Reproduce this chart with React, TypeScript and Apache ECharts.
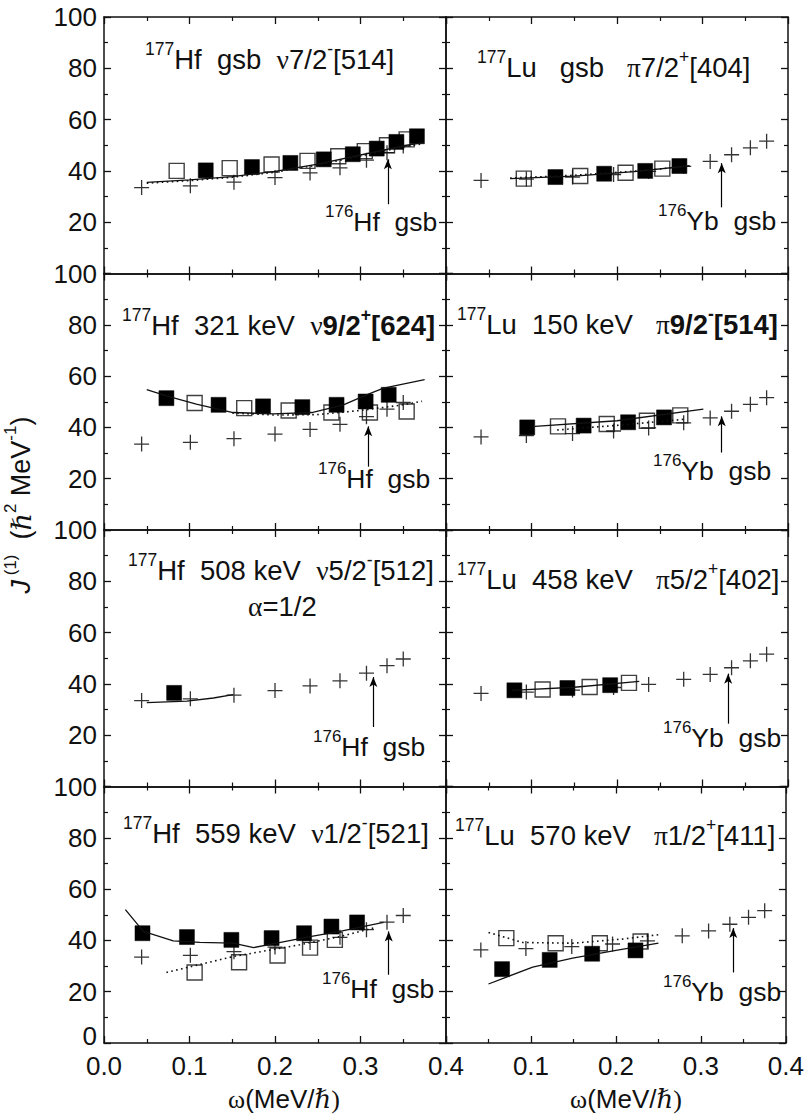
import React, { useEffect, useRef } from "react";
import * as echarts from "echarts";

// ---- reference bands (crosses) ----
const hf176Omega = [0.044, 0.101, 0.152, 0.2, 0.241, 0.276, 0.307, 0.331, 0.35];
const hf176J = [33.5, 34.2, 35.6, 37.4, 39.2, 41.2, 44.2, 47.1, 49.7];
const yb176Omega = [0.041, 0.094, 0.148, 0.196, 0.237, 0.278, 0.309, 0.334, 0.356, 0.375];
const yb176J = [36.3, 36.8, 37.6, 38.6, 39.8, 41.8, 43.7, 46.3, 49.0, 51.6];

// ---- panel 1: 177Hf gsb ----
const p1FilledX = [0.119, 0.173, 0.218, 0.257, 0.291, 0.319, 0.342, 0.366];
const p1FilledY = [40.2, 41.5, 43.1, 44.5, 46.5, 48.7, 51.3, 53.5];
const p1OpenX = [0.085, 0.147, 0.196, 0.238, 0.274, 0.305, 0.331, 0.354];
const p1OpenY = [40.0, 41.1, 42.5, 43.9, 45.7, 47.7, 50.0, 52.3];
const p1SolidX = [0.05, 0.1, 0.15, 0.2, 0.25, 0.3, 0.35, 0.373];
const p1SolidY = [35.5, 36.5, 37.8, 39.8, 42.6, 46.2, 49.8, 51.0];
const p1DotX = [0.05, 0.1, 0.15, 0.2, 0.25, 0.3, 0.35, 0.373];
const p1DotY = [35.2, 36.2, 37.5, 39.5, 42.3, 45.8, 49.4, 50.6];

// ---- panel 2: 177Lu gsb ----
const p2FilledX = [0.128, 0.185, 0.233, 0.273];
const p2FilledY = [37.6, 38.9, 40.0, 41.9];
const p2OpenX = [0.091, 0.157, 0.21, 0.253];
const p2OpenY = [37.0, 38.0, 39.3, 40.9];
const p2SolidX = [0.075, 0.15, 0.22, 0.285];
const p2SolidY = [37.0, 38.0, 39.7, 42.0];
const p2DotX = [0.075, 0.15, 0.22, 0.285];
const p2DotY = [37.2, 38.3, 39.9, 41.8];

// ---- panel 3: 177Hf 321 keV ----
const p3FilledX = [0.073, 0.134, 0.186, 0.232, 0.272, 0.306, 0.333];
const p3FilledY = [51.4, 48.8, 48.2, 47.9, 48.8, 50.1, 52.7];
const p3OpenX = [0.106, 0.164, 0.216, 0.266, 0.311, 0.354];
const p3OpenY = [49.5, 47.5, 46.6, 45.8, 45.8, 46.2];
const p3SolidX = [0.05, 0.073, 0.108, 0.151, 0.198, 0.243, 0.28, 0.307, 0.327, 0.375];
const p3SolidY = [54.7, 52.3, 49.1, 45.8, 45.3, 45.8, 48.8, 52.7, 55.3, 58.6];
const p3DotX = [0.15, 0.2, 0.25, 0.3, 0.35, 0.372];
const p3DotY = [45.6, 44.8, 45.0, 46.6, 48.8, 50.2];

// ---- panel 4: 177Lu 150 keV ----
const p4FilledX = [0.095, 0.161, 0.213, 0.255];
const p4FilledY = [40.0, 40.7, 42.0, 43.9];
const p4OpenX = [0.131, 0.188, 0.235, 0.274];
const p4OpenY = [40.4, 41.3, 42.6, 44.7];
const p4SolidX = [0.104, 0.2, 0.301];
const p4SolidY = [40.4, 42.6, 47.1];
const p4DotX = [0.13, 0.2, 0.28];
const p4DotY = [39.0, 40.8, 43.2];

// ---- panel 5: 177Hf 508 keV ----
const p5FilledX = [0.082];
const p5FilledY = [36.5];
const p5SolidX = [0.05, 0.097, 0.128, 0.151];
const p5SolidY = [32.7, 33.3, 34.5, 35.8];

// ---- panel 6: 177Lu 458 keV ----
const p6FilledX = [0.08, 0.142, 0.192];
const p6FilledY = [37.5, 38.4, 39.5];
const p6OpenX = [0.113, 0.168, 0.214];
const p6OpenY = [37.8, 38.8, 40.4];
const p6SolidX = [0.077, 0.15, 0.226];
const p6SolidY = [37.5, 38.7, 41.0];

// ---- panel 7: 177Hf 559 keV ----
const p7FilledX = [0.045, 0.097, 0.149, 0.196, 0.234, 0.266, 0.296];
const p7FilledY = [42.8, 41.3, 40.2, 40.9, 42.8, 45.4, 47.0];
const p7OpenX = [0.106, 0.158, 0.203, 0.241, 0.27];
const p7OpenY = [27.5, 31.5, 34.1, 37.2, 40.2];
const p7SolidX = [0.025, 0.046, 0.081, 0.112, 0.151, 0.175, 0.202, 0.241, 0.276, 0.307, 0.327];
const p7SolidY = [52.0, 43.5, 39.8, 39.2, 38.9, 37.2, 38.9, 41.5, 43.5, 45.7, 47.0];
const p7DotX = [0.073, 0.151, 0.229, 0.276, 0.315];
const p7DotY = [27.5, 33.7, 38.3, 41.5, 44.8];

// ---- panel 8: 177Lu 570 keV ----
const p8FilledX = [0.066, 0.122, 0.172, 0.223];
const p8FilledY = [28.8, 32.4, 34.8, 36.1];
const p8OpenX = [0.071, 0.129, 0.181, 0.229];
const p8OpenY = [40.9, 38.9, 38.9, 39.6];
const p8SolidX = [0.05, 0.102, 0.149, 0.2, 0.25];
const p8SolidY = [23.0, 29.6, 33.1, 36.1, 38.9];
const p8DotX = [0.05, 0.09, 0.149, 0.207, 0.25];
const p8DotY = [43.1, 39.2, 38.9, 40.5, 42.2];

// arrows: omega, from J, to J
const arrowOmega = [0.332, 0.3225, 0.309, 0.3225, 0.315, 0.33, 0.333, 0.338];
const arrowFrom = [27, 25.8, 24.7, 30.2, 23.2, 24.5, 26.6, 27.5];
const arrowTo = [44.5, 43, 40.4, 44.3, 42.7, 44.0, 43.5, 44.8];

// tick values
const xTicks = { min: 0, max: 0.4, interval: 0.1 };
const yTicks = { min: 0, max: 100, interval: 20 };

// texts
const titles = [
  "{s|177}{m|Hf\u00A0\u00A0gsb\u00A0\u00A0}{g|ν}{m|7/2}{s|-}{m|[514]}",
  "{s|177}{m|Lu\u00A0\u00A0\u00A0gsb\u00A0\u00A0\u00A0}{g|π}{m|7/2}{s|+}{m|[404]}",
  "{s|177}{m|Hf\u00A0\u00A0321\u00A0keV\u00A0\u00A0}{g|ν}{b|9/2}{bs|+}{b|[624]}",
  "{s|177}{m|Lu\u00A0\u00A0150\u00A0keV\u00A0\u00A0\u00A0}{g|π}{b|9/2}{bs|-}{b|[514]}",
  "{s|177}{m|Hf\u00A0\u00A0508\u00A0keV\u00A0\u00A0}{g|ν}{m|5/2}{s|-}{m|[512]}",
  "{s|177}{m|Lu\u00A0\u00A0458\u00A0keV\u00A0\u00A0\u00A0}{g|π}{m|5/2}{s|+}{m|[402]}",
  "{s|177}{m|Hf\u00A0\u00A0559\u00A0keV\u00A0\u00A0}{g|ν}{m|1/2}{s|-}{m|[521]}",
  "{s|177}{m|Lu\u00A0\u00A0570\u00A0keV\u00A0\u00A0\u00A0}{g|π}{m|1/2}{s|+}{m|[411]}",
];
const refLabels = [
  "{s|176}{m|Hf\u00A0\u00A0gsb}",
  "{s|176}{m|Yb\u00A0\u00A0gsb}",
];
const alphaLabel = "{g|α}{m|=1/2}";
const yTitle = "{it|J}{ys|\u00A0(1)}{m|\u00A0\u00A0(}{h|ℏ}{ys|2}{m|\u00A0MeV}{ys|-1}{m|)}";
const xTitle = "{g|ω}{m|(MeV/}{h|ℏ}{g|)}";

// layout
const colLeft = [104, 446];
const gridW = 342;
const rowTop0 = 17;
const rowH = 256.5;
const titlePos = [
  [145, 59], [477, 67], [122, 325], [457, 324],
  [128, 570], [457, 579], [123, 833], [455, 835],
];
const refPos = [
  [325, 222], [658, 221], [318, 479], [653, 471],
  [313, 747], [663, 738], [322, 989], [663, 992],
];

const INK = "#111111";
const SANS = "Liberation Sans";
const SERIF = "Liberation Serif";

function zip(xs: number[], ys: number[]) {
  return xs.map((x, i) => [x, ys[i]]);
}

const richStyles = (fs: number, sfs: number) => ({
  m: { fontSize: fs, lineHeight: 38, fontFamily: SANS, fill: INK },
  b: { fontSize: fs, lineHeight: 38, fontFamily: SANS, fontWeight: "bold", fill: INK },
  s: { fontSize: sfs, lineHeight: 17, fontFamily: SANS, fill: INK, verticalAlign: "top" },
  bs: { fontSize: sfs, lineHeight: 17, fontFamily: SANS, fontWeight: "bold", fill: INK, verticalAlign: "top" },
  g: { fontSize: fs, lineHeight: 38, fontFamily: SERIF, fill: INK },
  h: { fontSize: fs, lineHeight: 38, fontFamily: "DejaVu Serif", fontStyle: "italic", fill: INK },
  it: { fontSize: fs, lineHeight: 38, fontFamily: SANS, fontStyle: "italic", fill: INK },
  ys: { fontSize: sfs, lineHeight: 17, fontFamily: SANS, fill: INK, verticalAlign: "top" },
});

export default function App() {
  const ref = useRef<HTMLDivElement>(null);
  useEffect(() => {
    document.body.style.margin = "0";
    if (!ref.current) return;
    const chart = echarts.init(ref.current, null, { renderer: "svg" });

    const grids: any[] = [];
    const xAxes: any[] = [];
    const yAxes: any[] = [];
    const series: any[] = [];

    const panels = [
      { filled: [p1FilledX, p1FilledY], open: [p1OpenX, p1OpenY], solid: [p1SolidX, p1SolidY], dot: [p1DotX, p1DotY] },
      { filled: [p2FilledX, p2FilledY], open: [p2OpenX, p2OpenY], solid: [p2SolidX, p2SolidY], dot: [p2DotX, p2DotY] },
      { filled: [p3FilledX, p3FilledY], open: [p3OpenX, p3OpenY], solid: [p3SolidX, p3SolidY], dot: [p3DotX, p3DotY] },
      { filled: [p4FilledX, p4FilledY], open: [p4OpenX, p4OpenY], solid: [p4SolidX, p4SolidY], dot: [p4DotX, p4DotY] },
      { filled: [p5FilledX, p5FilledY], open: null, solid: [p5SolidX, p5SolidY], dot: null },
      { filled: [p6FilledX, p6FilledY], open: [p6OpenX, p6OpenY], solid: [p6SolidX, p6SolidY], dot: null },
      { filled: [p7FilledX, p7FilledY], open: [p7OpenX, p7OpenY], solid: [p7SolidX, p7SolidY], dot: [p7DotX, p7DotY] },
      { filled: [p8FilledX, p8FilledY], open: [p8OpenX, p8OpenY], solid: [p8SolidX, p8SolidY], dot: [p8DotX, p8DotY] },
    ];

    const axisLine = { show: true, onZero: false, lineStyle: { color: INK, width: 1.5 } };
    const axisTick = { show: true, inside: true, length: 7, lineStyle: { color: INK, width: 1.3 } };
    const minorTick = { show: true, splitNumber: 2, length: 4, lineStyle: { color: INK, width: 1.2 } };
    const labelBase = { fontSize: 26, color: INK, fontFamily: SANS, lineHeight: 20 };

    for (let g = 0; g < 8; g++) {
      const row = Math.floor(g / 2);
      const col = g % 2;
      grids.push({ left: colLeft[col], top: rowTop0 + row * rowH, width: gridW, height: rowH });
      const xCommon = {
        gridIndex: g, type: "value", ...xTicks,
        axisLine, axisTick, minorTick, splitLine: { show: false },
      };
      xAxes.push({
        ...xCommon, position: "bottom",
        axisLabel: {
          show: row === 3, showMinLabel: col === 0, showMaxLabel: true, margin: 13, ...labelBase,
          formatter: (v: number) => v.toFixed(1),
        },
      });
      xAxes.push({ ...xCommon, position: "top", axisLabel: { show: false } });
      const yCommon = {
        gridIndex: g, type: "value", ...yTicks,
        axisLine, axisTick, minorTick, splitLine: { show: false },
      };
      yAxes.push({
        ...yCommon, position: "left",
        axisLabel: {
          show: col === 0, showMinLabel: row === 3, showMaxLabel: true, margin: 7, ...labelBase,
          formatter: (v: number) => (v === 0 ? "{z|0}" : String(v)),
          rich: { z: { fontSize: 26, fontFamily: SANS, color: INK, lineHeight: 20, padding: [0, 0, 14, 0] } },
        },
      });
      yAxes.push({ ...yCommon, position: "right", axisLabel: { show: false } });

      const p = panels[g];
      const xi = 2 * g;
      if (p.dot) {
        series.push({
          type: "line", xAxisIndex: xi, yAxisIndex: xi, data: zip(p.dot[0], p.dot[1]),
          symbol: "none", lineStyle: { color: INK, width: 1.6, type: [1.6, 3.4] }, silent: true,
        });
      }
      series.push({
        type: "line", xAxisIndex: xi, yAxisIndex: xi, data: zip(p.solid[0], p.solid[1]),
        symbol: "none", lineStyle: { color: INK, width: 1.3, type: "solid" }, silent: true,
      });
      const refX = col === 0 ? hf176Omega : yb176Omega;
      const refY = col === 0 ? hf176J : yb176J;
      series.push({
        type: "scatter", xAxisIndex: xi, yAxisIndex: xi, data: zip(refX, refY),
        symbol: "path://M5 0 L5 10 M0 5 L10 5", symbolSize: 15,
        itemStyle: { color: "transparent", borderColor: "#000", borderWidth: 1.3 },
        silent: true,
        markLine: {
          silent: true, symbol: ["none", "arrow"], symbolSize: [6, 10],
          lineStyle: { color: "#000", width: 1.2, type: "solid" }, label: { show: false },
          data: [[{ coord: [arrowOmega[g], arrowFrom[g]] }, { coord: [arrowOmega[g], arrowTo[g]] }]],
        },
      });
      if (p.open) {
        series.push({
          type: "scatter", xAxisIndex: xi, yAxisIndex: xi, data: zip(p.open[0], p.open[1]),
          symbol: "rect", symbolSize: 15,
          itemStyle: { color: "transparent", borderColor: "#111", borderWidth: 1.4 }, silent: true,
        });
      }
      series.push({
        type: "scatter", xAxisIndex: xi, yAxisIndex: xi, data: zip(p.filled[0], p.filled[1]),
        symbol: "rect", symbolSize: 15,
        itemStyle: { color: "#000", borderColor: "#000", borderWidth: 0.5, opacity: 1 }, silent: true,
      });
    }

    const graphic: any[] = [];
    for (let g = 0; g < 8; g++) {
      graphic.push({
        type: "text", x: titlePos[g][0], y: titlePos[g][1], silent: true,
        style: { text: titles[g], rich: richStyles(27.5, 17.5), align: "left", verticalAlign: "middle" },
      });
      graphic.push({
        type: "text", x: refPos[g][0], y: refPos[g][1], silent: true,
        style: { text: refLabels[g % 2], rich: richStyles(26.5, 17), align: "left", verticalAlign: "middle" },
      });
    }
    graphic.push({
      type: "text", x: 248, y: 606, silent: true,
      style: { text: alphaLabel, rich: richStyles(27.5, 17), align: "left", verticalAlign: "middle" },
    });
    graphic.push({
      type: "text", x: 21, y: 505, rotation: Math.PI / 2, silent: true,
      style: { text: yTitle, rich: richStyles(27, 17), align: "center", verticalAlign: "middle" },
    });
    graphic.push({
      type: "text", x: 284, y: 1099, silent: true,
      style: { text: xTitle, rich: richStyles(26, 17), align: "center", verticalAlign: "middle" },
    });
    graphic.push({
      type: "text", x: 626, y: 1099, silent: true,
      style: { text: xTitle, rich: richStyles(26, 17), align: "center", verticalAlign: "middle" },
    });

    chart.setOption({
      animation: false,
      backgroundColor: "#ffffff",
      grid: grids,
      xAxis: xAxes,
      yAxis: yAxes,
      series,
      graphic,
    });
    return () => chart.dispose();
  }, []);
  return <div ref={ref} style={{ width: 807, height: 1114 }} />;
}
